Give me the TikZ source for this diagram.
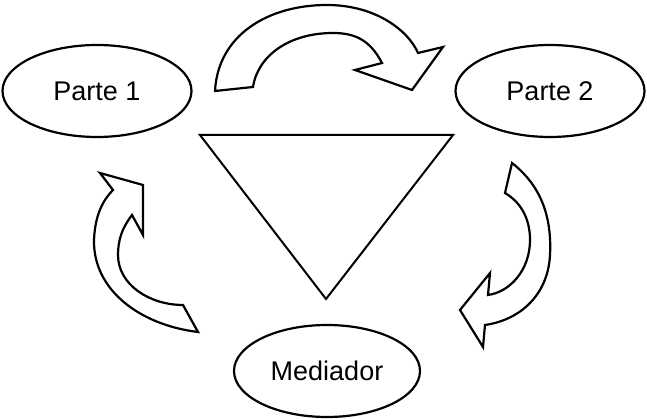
\documentclass[tikz,border=0pt]{standalone}
\usepackage{fontspec}
\setmainfont{Liberation Sans}
\usetikzlibrary{shapes.geometric}
\begin{document}
\begin{tikzpicture}[x=1pt,y=-1pt,
  outline/.style={draw=black,line width=2.2pt,line join=miter,fill=white},
  party/.style={outline,ellipse,minimum width=189pt,minimum height=92pt,inner sep=0pt,
    font=\fontsize{27}{30}\selectfont}]
\useasboundingbox (0,0) rectangle (647,419);
% the three parties
\node[party] (p1) at (97,91) {Parte 1};
\node[party] (p2) at (550,91) {Parte 2};
\node[party,minimum width=186pt] (med) at (327,371) {Mediador};
% central triangle
\coordinate (tl) at (200,135);
\coordinate (tr) at (453,135);
\coordinate (tb) at (326,299);
\draw[outline,fill=none,line width=2pt] (tl) -- (tr) -- (tb) -- cycle;
% top curved arrow, Parte 1 -> Parte 2
\draw[outline] (215,91) .. controls (218,35) and (268,5) .. (327,5)
  .. controls (375,5) and (408,30) .. (418,53)
  -- (443,47) -- (412,90) -- (355,70) -- (382,63)
  .. controls (370,40) and (355,33) .. (333,33)
  .. controls (290,33) and (258,55) .. (253,87) -- cycle;
% right curved arrow, Parte 2 -> Mediador
\draw[outline] (512,163) .. controls (540,185) and (552,215) .. (550,255)
  .. controls (548,295) and (520,320) .. (485,325)
  -- (483,347) -- (460,310) -- (490,273) -- (488,295)
  .. controls (510,292) and (530,270) .. (530,240)
  .. controls (530,220) and (522,203) .. (505,193) -- cycle;
% left curved arrow, Mediador -> Parte 1
\draw[outline] (198,332) .. controls (140,325) and (93,290) .. (94,240)
  .. controls (95,215) and (103,200) .. (113,190)
  -- (100,173) -- (143,185) -- (143,235) -- (132,215)
  .. controls (122,228) and (118,240) .. (118,255)
  .. controls (118,285) and (150,305) .. (183,305) -- cycle;
\end{tikzpicture}
\end{document}
